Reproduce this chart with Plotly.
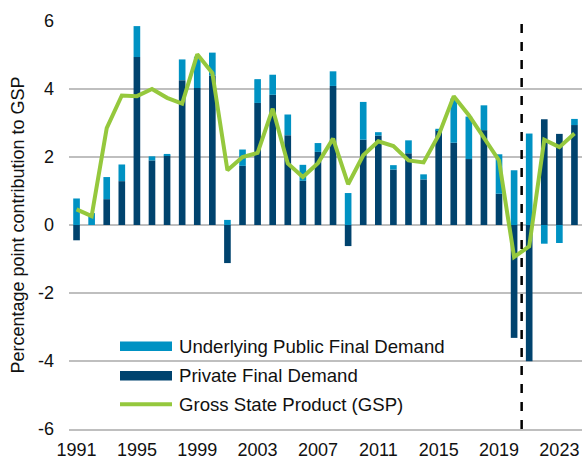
import plotly.graph_objects as go

years = list(range(1991, 2025))
private_fd = [-0.45, 0.00, 0.76, 1.29, 4.94, 1.90, 2.04, 4.26, 4.03, 4.40, -1.12, 1.74,
              3.59, 3.83, 2.64, 1.30, 2.15, 4.09, -0.62, 2.51, 2.63, 1.63, 2.11, 1.34,
              2.79, 2.42, 1.94, 2.79, 0.92, -3.32, -4.01, 3.11, 2.68, 2.94]
public_fd = [0.78, 0.35, 0.65, 0.49, 0.91, 0.12, 0.05, 0.61, 0.92, 0.67, 0.15, 0.48,
             0.70, 0.59, 0.61, 0.47, 0.26, 0.43, 0.94, 1.11, 0.10, 0.13, 0.38, 0.15,
             0.04, 1.30, 1.25, 0.73, 1.16, 1.61, 2.69, -0.55, -0.53, 0.18]
gsp = [0.46, 0.26, 2.85, 3.81, 3.79, 4.00, 3.74, 3.57, 5.02, 4.47, 1.61, 2.00,
       2.12, 3.42, 1.81, 1.41, 1.82, 2.54, 1.20, 2.05, 2.46, 2.32, 1.90, 1.84,
       2.64, 3.79, 3.23, 2.54, 1.90, -0.94, -0.63, 2.51, 2.29, 2.69]
x_ticks = [1991, 1995, 1999, 2003, 2007, 2011, 2015, 2019, 2023]
y_ticks = [-6, -4, -2, 0, 2, 4, 6]
forecast_split = 2020.5

LIGHT = "#0092C3"
DARK = "#00436E"
GREEN = "#95C83D"
GRID = "#BFBFBF"
FONT = "Liberation Sans, Arial, sans-serif"
FS = 18

fig = go.Figure()
fig.add_trace(go.Bar(x=years, y=private_fd, name="Private Final Demand",
                     marker=dict(color=DARK, line=dict(width=0)), showlegend=False))
fig.add_trace(go.Bar(x=years, y=public_fd, name="Underlying Public Final Demand",
                     marker=dict(color=LIGHT, line=dict(width=0)), showlegend=False))
fig.add_trace(go.Scatter(x=years, y=gsp, name="Gross State Product (GSP)", mode="lines",
                         line=dict(color=GREEN, width=4), showlegend=False))

fig.add_shape(type="line", x0=forecast_split, x1=forecast_split, y0=-6, y1=6,
              xref="x", yref="y", line=dict(color="black", width=2.5, dash="dash"))

# legend drawn as swatches + text
legend_items = [("Underlying Public Final Demand", LIGHT, "bar"),
                ("Private Final Demand", DARK, "bar"),
                ("Gross State Product (GSP)", GREEN, "line")]
ys = [346, 375.5, 404]
for (label, col, kind), yp in zip(legend_items, ys):
    yy = 1 - (yp - 21) / (428.7 - 21)
    if kind == "bar":
        fig.add_shape(type="rect", xref="paper", yref="paper",
                      x0=(120 - 69) / 513, x1=(172 - 69) / 513,
                      y0=yy - 4.8 / 407.7, y1=yy + 4.8 / 407.7,
                      fillcolor=col, line=dict(width=0))
    else:
        fig.add_shape(type="line", xref="paper", yref="paper",
                      x0=(120 - 69) / 513, x1=(172 - 69) / 513, y0=yy, y1=yy,
                      line=dict(color=col, width=4))
    fig.add_annotation(text=label, xref="paper", yref="paper",
                       x=(177 - 69) / 513, y=yy, xanchor="left", yanchor="middle",
                       showarrow=False, font=dict(family=FONT, size=18.6, color="#111"))

fig.update_layout(
    width=582, height=459,
    margin=dict(l=69, r=0, t=21, b=30.3),
    plot_bgcolor="white", paper_bgcolor="white",
    barmode="relative", bargap=0.56,
    font=dict(family=FONT, size=FS, color="#111"),
    xaxis=dict(range=[1990.5, 2024.5], tickmode="array", tickvals=x_ticks,
               ticktext=[str(t) for t in x_ticks], showgrid=False, zeroline=False,
               showline=True, linecolor=GRID, linewidth=1.5, ticks="",
               ticklabelstandoff=4, automargin=False),
    yaxis=dict(range=[-6, 6], tickmode="array", tickvals=y_ticks,
               ticktext=[str(t) for t in y_ticks], showgrid=True, gridcolor=GRID,
               gridwidth=1.5, zeroline=True, zerolinecolor=GRID, zerolinewidth=1.5,
               ticks="", ticklabelstandoff=14, automargin=False,
               title=dict(text="Percentage point contribution to GSP", standoff=8,
                          font=dict(family=FONT, size=FS))),
)

fig.write_html("out.html", config={"displayModeBar": False},
               post_script="document.body.style.margin='0';document.body.style.overflow='hidden';")
